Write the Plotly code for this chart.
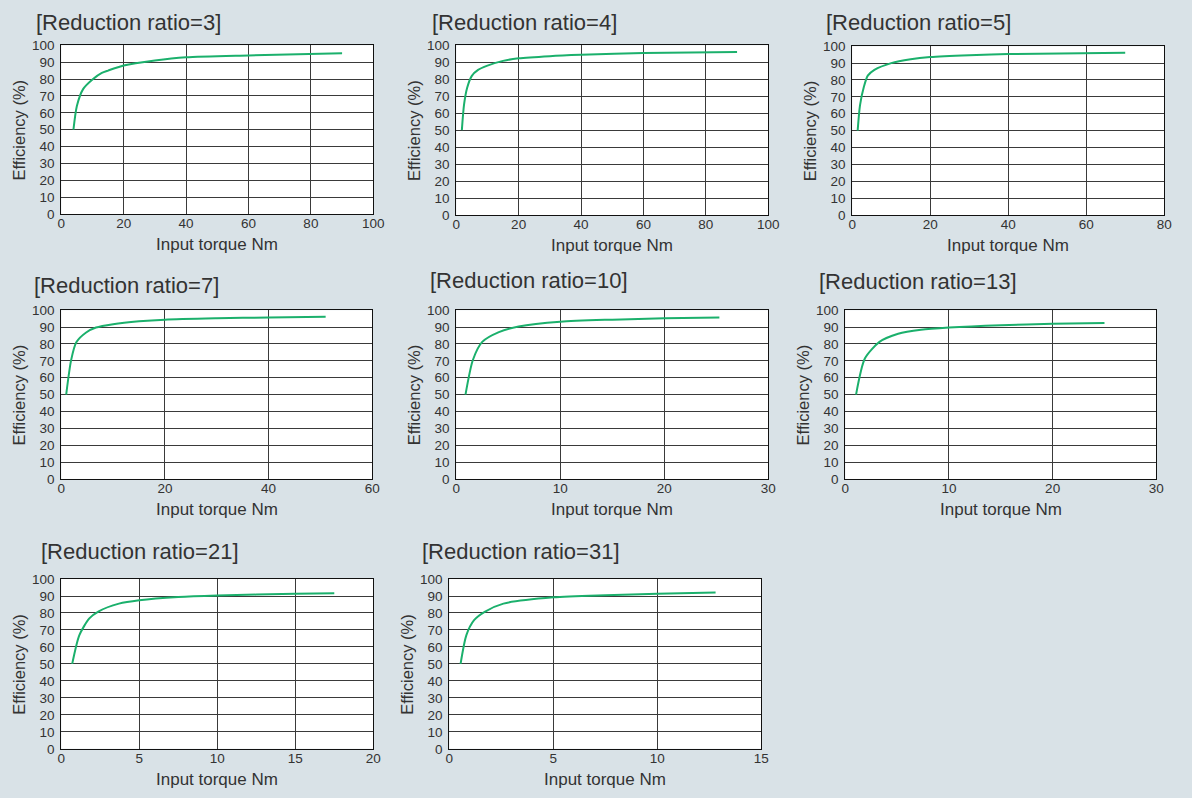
import plotly.graph_objects as go

W, H = 1192, 798

titles = ["[Reduction ratio=3]", "[Reduction ratio=4]", "[Reduction ratio=5]",
          "[Reduction ratio=7]", "[Reduction ratio=10]", "[Reduction ratio=13]",
          "[Reduction ratio=21]", "[Reduction ratio=31]"]

r3_x = [3.9, 5, 7, 10, 13, 15, 20, 30, 40, 60, 90]
r3_y = [50, 64, 74, 79.7, 83.6, 85, 88, 91, 92.9, 94, 95.2]
r4_x = [1.8, 2.5, 3.5, 5, 7, 10, 15, 20, 30, 40, 60, 90]
r4_y = [50, 65, 75, 82, 85.5, 88, 90.8, 92.3, 93.6, 94.4, 95.5, 96]
r5_x = [1.4, 2, 3, 4, 5.7, 10, 15, 20, 30, 40, 70]
r5_y = [50, 65, 76, 82.6, 86, 90, 92.3, 93.6, 94.7, 95.4, 96.1]
r7_x = [0.95, 1.9, 2.9, 4.8, 6.7, 10, 15, 20, 30, 40, 51]
r7_y = [50, 70.4, 81, 86.8, 89.7, 91.7, 93.4, 94.4, 95.2, 95.7, 96.1]
r10_x = [0.89, 1.6, 2.5, 4.1, 6, 10, 15, 20, 25.3]
r10_y = [50, 70.5, 81.2, 87, 90.3, 93.2, 94.4, 95.2, 95.7]
r13_x = [1.04, 1.9, 3.3, 5.1, 7.3, 10, 15, 20, 25]
r13_y = [50, 71.5, 81.2, 86, 88.4, 89.7, 91.1, 91.9, 92.4]
r21_x = [0.7, 1.16, 1.8, 2.4, 3.7, 5, 7.5, 10, 15, 17.5]
r21_y = [50, 67, 76.8, 81, 85.5, 87.5, 89.4, 90.3, 91.3, 91.7]
r31_x = [0.54, 0.82, 1.2, 1.7, 2.6, 5, 7.5, 10, 12.8]
r31_y = [50, 67, 75.9, 80.7, 85.5, 89.2, 90.5, 91.3, 92.1]

series_x = [r3_x, r4_x, r5_x, r7_x, r10_x, r13_x, r21_x, r31_x]
series_y = [r3_y, r4_y, r5_y, r7_y, r10_y, r13_y, r21_y, r31_y]

x_max = [100, 100, 80, 60, 30, 30, 20, 15]
x_dtick = [20, 20, 20, 20, 10, 10, 5, 5]
y_ticks = [0, 10, 20, 30, 40, 50, 60, 70, 80, 90, 100]

x_title = "Input torque Nm"
y_title = "Efficiency (%)"

# plot-area boxes in pixels: left, right, top, bottom
boxes = [(58, 374, 39, 211), (458, 774, 39, 212), (859, 1175, 40, 212),
         (58, 373, 309, 481), (458, 774, 309, 481), (852, 1167, 309, 481),
         (58, 374, 583, 756), (451, 767, 583, 756)]
title_pos = [(30, 16), (431, 16), (830, 16), (28, 284), (429, 279), (823, 280),
             (35, 555), (421, 555)]

FONT = "Arial, Liberation Sans, sans-serif"
TXT = "#333333"

fig = go.Figure()
layout = dict(width=W, height=H, margin=dict(l=0, r=0, t=0, b=0),
              paper_bgcolor="#d9e2e7", plot_bgcolor="white",
              showlegend=False, font=dict(family=FONT, color=TXT))
annotations = []

for i in range(8):
    n = "" if i == 0 else str(i + 1)
    fig.add_trace(go.Scatter(x=series_x[i], y=series_y[i], mode="lines",
                             line=dict(color="#1bb06c", width=2, shape="spline", smoothing=0.7),
                             xaxis="x" + n, yaxis="y" + n, hoverinfo="skip"))
    l, r, t, b = boxes[i]
    layout["xaxis" + n] = dict(domain=[l / W, r / W], anchor="y" + n, range=[0, x_max[i]],
                               dtick=x_dtick[i], tick0=0, showgrid=True, gridcolor="#3a3a3a",
                               gridwidth=1, showline=True, mirror=True, linecolor="#111",
                               linewidth=1, zeroline=False, ticks="", ticklabelstandoff=-3,
                               tickfont=dict(size=13.5, color=TXT, family=FONT), fixedrange=True)
    layout["yaxis" + n] = dict(domain=[1 - b / H, 1 - t / H], anchor="x" + n, range=[0, 100],
                               tickvals=y_ticks, showgrid=True, gridcolor="#3a3a3a",
                               gridwidth=1, showline=True, mirror=True, linecolor="#111",
                               linewidth=1, zeroline=False, ticks="", ticklabelstandoff=3,
                               tickfont=dict(size=13.5, color=TXT, family=FONT), fixedrange=True)
    tx, ty = title_pos[i]
    annotations.append(dict(text=titles[i], x=tx / W, y=1 - ty / H, xref="paper", yref="paper",
                            xanchor="left", yanchor="middle", showarrow=False,
                            font=dict(size=22, color=TXT, family=FONT)))
    annotations.append(dict(text=x_title, x=((l + r) / 2) / W, y=1 - (b + 31) / H,
                            xref="paper", yref="paper", xanchor="center", yanchor="middle",
                            showarrow=False, font=dict(size=17, color=TXT, family=FONT)))
    annotations.append(dict(text=y_title, x=(l - 43) / W, y=1 - ((t + b) / 2) / H,
                            xref="paper", yref="paper", xanchor="center", yanchor="middle",
                            textangle=-90, showarrow=False,
                            font=dict(size=16.5, color=TXT, family=FONT)))

layout["annotations"] = annotations
fig.update_layout(**layout)
post = ("document.documentElement.style.margin='0';document.documentElement.style.overflow='hidden';"
        "document.body.style.margin='0';document.body.style.overflow='hidden';"
        "var gd=document.getElementById('{plot_id}');gd.style.position='absolute';"
        "gd.style.left='0px';gd.style.top='0px';")
fig.write_html("out.html", config={"displayModeBar": False}, post_script=post)
